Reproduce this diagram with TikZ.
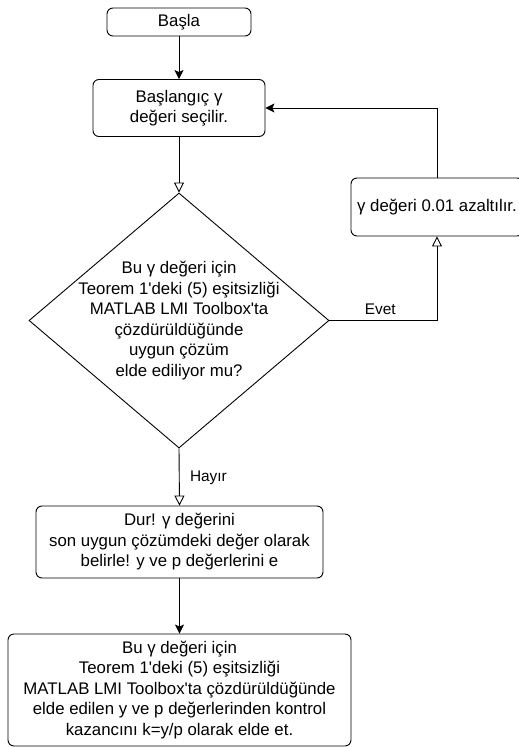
\documentclass[tikz,border=0pt]{standalone}
\usepackage{fontspec}
\setmainfont{Liberation Sans}[Ligatures=TeXOff]
\usetikzlibrary{arrows.meta,shapes.geometric}

\begin{document}
\begin{tikzpicture}[
  x=1pt, y=-1pt,
  box/.style={draw, rounded corners=6pt, line width=0.9pt, align=center,
    inner sep=0pt, font=\fontsize{16.8}{20.5}\selectfont},
  dec/.style={draw, diamond, line width=0.9pt, inner sep=0pt,
    minimum width=300pt, minimum height=255pt},
  flow/.style={line width=0.9pt, -{Stealth[length=9pt,width=9pt,inset=2pt]}},
  test/.style={line width=0.9pt, -{Triangle[open,length=10pt,width=10pt]}},
  lbl/.style={font=\fontsize{15.4}{18}\selectfont}
]
  \useasboundingbox (0,0) rectangle (519,747);
  % main column
  \node[box, minimum width=144pt, minimum height=28pt] (start) at (179,22) {Başla};
  \node[box, minimum width=172pt, minimum height=57pt] (init) at (179,108)
    {Başlangıç γ\\değeri seçilir.};
  \node[dec, label={[align=center, font=\fontsize{16.8}{20.5}\selectfont]center:{Bu γ değeri için\\
    Teorem 1'deki (5) eşitsizliği\\MATLAB LMI Toolbox'ta\\çözdürüldüğünde\\uygun çözüm\\
    elde ediliyor mu?}}] (check) at (179,320.5) {};
  \node[box, minimum width=172pt, minimum height=58pt] (reduce) at (437,207)
    {γ değeri 0.01 azaltılır.};
  \node[box, minimum width=287pt, minimum height=72pt] (stop) at (179.5,542)
    {Dur! γ değerini\\son uygun çözümdeki değer olarak\\belirle! y ve p değerlerini e};
  \node[box, minimum width=343pt, minimum height=112pt] (gain) at (179.5,690)
    {Bu γ değeri için\\Teorem 1'deki (5) eşitsizliği\\MATLAB LMI Toolbox'ta çözdürüldüğünde\\
    elde edilen y ve p değerlerinden kontrol\\kazancını k=y/p olarak elde et.};
  % connectors
  \draw[flow] (start) -- (init);
  \draw[test] (init) -- (check.north);
  \draw[test] (check.east) -| node[lbl, pos=0.236, above=2pt] {Evet} (reduce.south);
  \draw[flow] (reduce.north) |- (init.east);
  \draw[test] (check.south) -- node[lbl, pos=0.52, right=7pt] {Hayır} (stop.north);
  \draw[flow] (stop) -- (gain);
\end{tikzpicture}
\end{document}
